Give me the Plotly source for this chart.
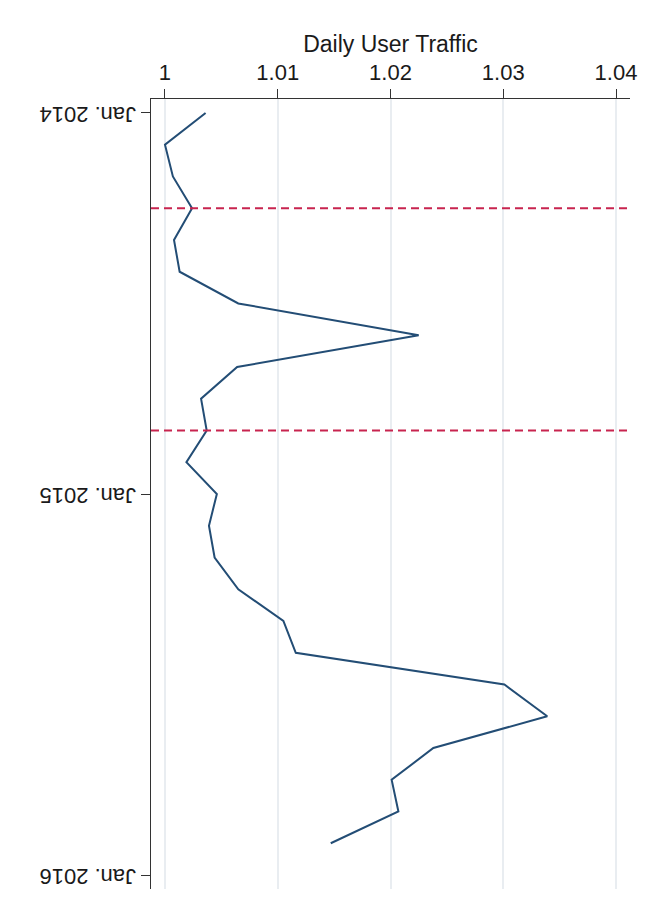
import plotly.graph_objects as go

months = ["2014-01", "2014-02", "2014-03", "2014-04", "2014-05", "2014-06",
          "2014-07", "2014-08", "2014-09", "2014-10", "2014-11", "2014-12",
          "2015-01", "2015-02", "2015-03", "2015-04", "2015-05", "2015-06",
          "2015-07", "2015-08", "2015-09", "2015-10", "2015-11", "2015-12"]
traffic = [1.0036, 1.0000, 1.0007, 1.0024, 1.0008, 1.0013,
           1.0065, 1.0225, 1.0064, 1.0032, 1.0037, 1.0019,
           1.0046, 1.0039, 1.0044, 1.0065, 1.0105, 1.0116,
           1.0301, 1.0339, 1.0238, 1.0201, 1.0207, 1.0147]
event_months = ["2014-04", "2014-11"]
tick_months = ["2014-01", "2015-01", "2016-01"]
tick_labels = ["Jan. 2014", "Jan. 2015", "Jan. 2016"]
x_ticks = [1, 1.01, 1.02, 1.03, 1.04]
x_ticklabels = ["1", "1.01", "1.02", "1.03", "1.04"]


def month_index(m):
    y, mo = m.split("-")
    return (int(y) - 2014) * 12 + int(mo) - 1


t = [month_index(m) for m in months]

fig = go.Figure()
fig.add_trace(go.Scatter(x=traffic, y=t, mode="lines",
                         line=dict(color="#234d75", width=2), showlegend=False,
                         hoverinfo="skip"))

for m in event_months:
    fig.add_shape(type="line", xref="paper", x0=0, x1=1, yref="y",
                  y0=month_index(m), y1=month_index(m),
                  line=dict(color="#c8244f", width=2, dash="8px,5px"))

font = dict(family="Liberation Sans, Arial, sans-serif", size=22, color="#1a1a1a")
title_font = dict(family="Liberation Sans, Arial, sans-serif", size=23, color="#1a1a1a")

fig.update_layout(
    width=660, height=898,
    margin=dict(l=143, r=38, t=91, b=17),
    paper_bgcolor="white", plot_bgcolor="white",
    font=font,
    xaxis=dict(side="top", range=[0.99876, 1.04124],
               tickvals=x_ticks, ticktext=x_ticklabels,
               ticks="outside", ticklen=9, tickwidth=1.3, tickcolor="#333",
               showline=True, linecolor="#333", linewidth=1.3,
               showgrid=True, gridcolor="#e9edf1", gridwidth=1.5,
               zeroline=False,
               title=dict(text="Daily User Traffic", font=title_font, standoff=0),
               tickfont=font),
    yaxis=dict(range=[24.44, -0.44],
               tickvals=[month_index(m) for m in tick_months], ticktext=tick_labels,
               tickangle=180, ticklabelstandoff=97, ticklabelshift=-8,
               ticks="outside", ticklen=9, tickwidth=1.3, tickcolor="#333",
               showline=True, linecolor="#333", linewidth=1.3,
               showgrid=False, zeroline=False, tickfont=font),
)

fig.write_html("out.html")
